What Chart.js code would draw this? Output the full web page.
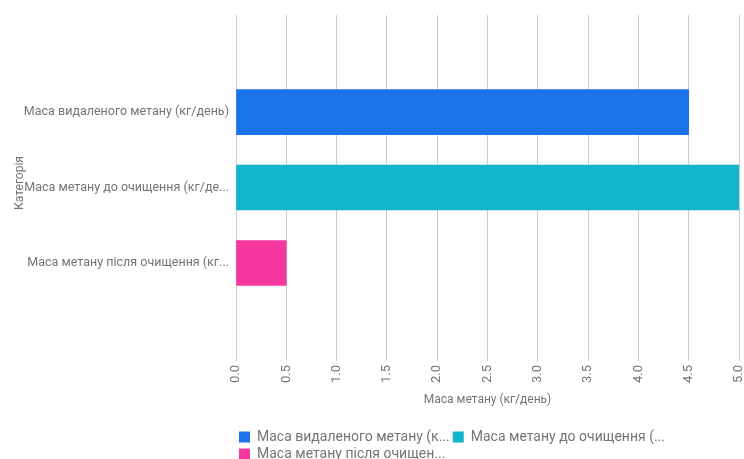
<!DOCTYPE html>
<html lang="uk">
<head>
    <meta charset="UTF-8">
    <title>Маса метану</title>
    <script src="https://cdn.jsdelivr.net/npm/chart.js"></script>
    <style>
        html, body { margin: 0; padding: 0; background: #ffffff; }
        .chart-container { position: relative; width: 744px; height: 459px; }
    </style>
</head>
<body>
    <div class="chart-container">
        <canvas id="methaneChart"></canvas>
    </div>

    <script>
        // data
        const categories = [
            'Маса видаленого метану (кг/день)',
            'Маса метану до очищення (кг/день)',
            'Маса метану після очищення (кг/день)'
        ];
        const methaneValues = [4.5, 5.0, 0.5];
        const barColors = ['#1a73e8', '#12b5cb', '#f538a0'];
        const xTickValues = [0, 0.5, 1, 1.5, 2, 2.5, 3, 3.5, 4, 4.5, 5];

        const FONT = 'Roboto, "Noto Sans", sans-serif';
        const GREY = '#757575';

        // cut a text with "..." when it is wider than fitW
        const measureCtx = document.createElement('canvas').getContext('2d');
        function fitText(text, size, fitW, cutW) {
            measureCtx.font = size + 'px ' + FONT;
            if (measureCtx.measureText(text).width <= fitW) return text;
            let s = text;
            while (s.length > 1 && measureCtx.measureText(s + '...').width > cutW) {
                s = s.slice(0, -1);
            }
            return s + '...';
        }

        // one dataset per category so the legend shows each colour
        const datasets = categories.map((cat, i) => ({
            label: cat,
            data: [{ x: methaneValues[i], y: i }],
            backgroundColor: barColors[i],
            borderColor: barColors[i],
            borderWidth: 0,
            barThickness: 45
        }));

        new Chart(document.getElementById('methaneChart'), {
            type: 'bar',
            data: { datasets: datasets },
            options: {
                indexAxis: 'y',
                responsive: true,
                maintainAspectRatio: false,
                animation: false,
                layout: { padding: { left: 13, right: 5, top: 15, bottom: -12 } },
                datasets: { bar: { grouped: false } },
                plugins: {
                    tooltip: { enabled: false },
                    legend: {
                        position: 'bottom',
                        align: 'start',
                        fullSize: false,
                        labels: {
                            boxWidth: 11,
                            boxHeight: 11,
                            padding: 3,
                            color: GREY,
                            font: { family: FONT, size: 14 },
                            generateLabels: (chart) => chart.data.datasets.map((ds, i) => ({
                                text: fitText(ds.label, 14, 195.5, 195.5),
                                fillStyle: ds.backgroundColor,
                                strokeStyle: ds.backgroundColor,
                                lineWidth: 0,
                                fontColor: GREY,
                                datasetIndex: i,
                                hidden: false
                            }))
                        }
                    }
                },
                scales: {
                    x: {
                        type: 'linear',
                        min: 0,
                        max: 5,
                        afterBuildTicks: (scale) => {
                            scale.ticks = xTickValues.map(v => ({ value: v }));
                        },
                        afterFit: (scale) => {
                            scale.height = 76;
                            scale.paddingLeft = 0;
                            scale.paddingRight = 0;
                        },
                        grid: { color: '#cccccc', lineWidth: 1, tickLength: 10, drawTicks: true },
                        border: { display: false },
                        ticks: {
                            minRotation: 90,
                            maxRotation: 90,
                            padding: 4,
                            color: GREY,
                            font: { family: FONT, size: 13 },
                            callback: (v) => Number(v).toFixed(1)
                        },
                        title: {
                            display: true,
                            text: 'Маса метану (кг/день)',
                            color: GREY,
                            font: { family: FONT, size: 12 },
                            padding: { top: 4, bottom: 20 }
                        }
                    },
                    y: {
                        type: 'linear',
                        reverse: true,
                        offset: false,
                        bounds: 'data',
                        min: -1.287,
                        max: 3.167,
                        afterBuildTicks: (scale) => {
                            scale.ticks = categories.map((c, i) => ({ value: i }));
                        },
                        afterFit: (scale) => { scale.width = 223; },
                        grid: { display: false, drawTicks: false, offset: false },
                        border: { display: false },
                        ticks: {
                            padding: 7,
                            color: GREY,
                            font: { family: FONT, size: 12.5 },
                            callback: (v) => fitText(categories[v] || '', 12.5, 210, 205)
                        },
                        title: {
                            display: true,
                            text: 'Категорія',
                            color: GREY,
                            font: { family: FONT, size: 12 },
                            padding: 0
                        }
                    }
                }
            }
        });
    </script>
</body>
</html>
